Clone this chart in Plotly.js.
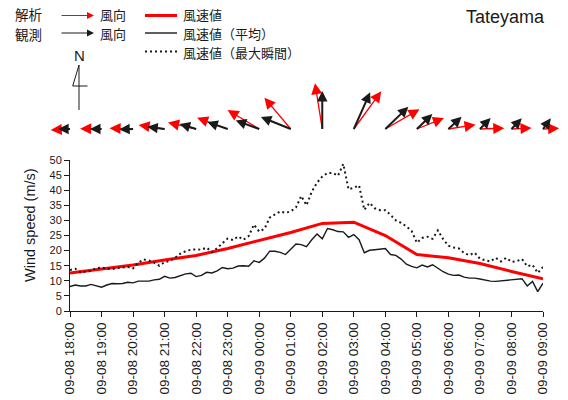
<!DOCTYPE html>
<html>
<head>
<meta charset="utf-8">
<script src="https://cdn.plot.ly/plotly-3.0.1.min.js"></script>
<style>
  html, body { margin: 0; padding: 0; background: #fff; }
  #chart { width: 568px; height: 400px; }
</style>
</head>
<body>
<div id="chart"></div>
<script>
// Hourly tick labels (month-day hour:minute), night of 8-9 September 2019
const hourLabels = [
  '09-08 18:00', '09-08 19:00', '09-08 20:00', '09-08 21:00', '09-08 22:00',
  '09-08 23:00', '09-09 00:00', '09-09 01:00', '09-09 02:00', '09-09 03:00',
  '09-09 04:00', '09-09 05:00', '09-09 06:00', '09-09 07:00', '09-09 08:00',
  '09-09 09:00'
];
const year = '2019';

// Analysis: hourly wind speed (m/s)
const anaSpeed = [12.6, 13.9, 15.2, 16.9, 18.4, 20.7, 23.4, 26.0, 29.0, 29.4, 25.0, 18.7, 17.6, 15.7, 13.1, 10.7];
// Analysis: hourly wind direction (degrees the wind blows from)
const anaDir = [87, 91, 92, 99, 103, 110, 121, 140, 171, 216, 240, 248, 261, 268, 267, 267];
// Observation: hourly wind direction (degrees the wind blows from)
const obsDir = [90, 90, 88, 97, 107, 109, 110, 112, 180, 204, 226, 226, 227, 224, 224, 216];

// Observation: 10-minute mean wind speed (m/s)
const obsMean = [
  8.1, 8.6, 8.3, 8.3, 8.8, 8.4,
  7.9, 8.6, 9.1, 9.0, 9.1, 9.5,
  9.3, 9.9, 9.8, 9.9, 10.3, 10.5,
  11.5, 10.9, 11.1, 11.8, 12.3, 12.5,
  11.4, 11.8, 12.8, 12.6, 13.3, 14.4,
  14.0, 14.2, 14.9, 15.0, 14.8, 16.6,
  16.1, 17.5, 19.8, 19.8, 19.4, 18.7,
  20.5, 22.2, 22.0, 21.3, 23.6, 25.5,
  23.9, 27.3, 26.9, 26.3, 26.2, 24.4,
  25.3, 23.6, 19.3, 20.1, 20.3, 20.5,
  20.7, 18.7, 18.4, 17.2, 15.5, 14.8,
  14.3, 15.2, 14.6, 15.3, 14.0, 13.0,
  12.2, 11.8, 11.9, 11.2, 10.9, 10.9,
  10.6, 10.2, 9.9, 9.8, 10.0, 10.2,
  10.3, 10.5, 10.7, 8.3, 9.8, 6.4,
  9.2
];
// Observation: 10-minute maximum instantaneous wind speed (m/s)
const obsGust = [
  13.6, 14.0, 12.8, 13.0, 13.3, 14.2,
  14.4, 14.0, 13.9, 14.2, 14.4, 14.6,
  14.1, 16.0, 17.1, 16.7, 16.0, 15.0,
  16.2, 16.6, 17.6, 19.0, 19.8, 20.3,
  20.4, 20.3, 21.0, 19.5, 20.8, 22.5,
  24.0, 23.5, 24.7, 23.6, 24.8, 28.6,
  26.3, 27.2, 30.9, 32.0, 33.0, 32.5,
  33.0, 34.3, 38.1, 35.0, 39.5, 42.5,
  44.5, 45.7, 45.7, 44.8, 48.7, 40.3,
  40.8, 41.6, 33.5, 35.8, 34.0, 33.4,
  33.4, 31.8, 30.0, 29.2, 28.0, 26.5,
  22.6, 24.2, 24.6, 23.9, 26.7, 23.8,
  21.6, 21.0, 20.7, 19.2, 18.5, 19.3,
  17.3, 16.8, 16.4, 17.6, 16.4, 17.6,
  16.3, 16.5, 17.2, 14.8, 15.3, 12.6,
  14.6
];

// ---- time axes ----
const hourTimes = hourLabels.map(l => year + '-' + l);
const t0 = Date.UTC(2019, 8, 8, 18, 0);
const obsTimes = obsMean.map((_, i) =>
  new Date(t0 + i * 600000).toISOString().slice(0, 16).replace('T', ' '));
const obsHourly = hourLabels.map((_, i) => obsMean[i * 6]);

// ---- page geometry ----
const W = 568, H = 400;
const M = { l: 70, r: 25, t: 0, b: 89 };
const plotW = W - M.l - M.r, plotH = H - M.t - M.b;
const px = x => (x - M.l) / plotW;           // pixel -> paper x
const py = y => (H - M.b - y) / plotH;       // pixel -> paper y
const speedTop = py(160);                    // top of the wind-speed panel
const arrowBase = py(129);                   // baseline of the direction arrows

const latin = 'Liberation Sans, Arial, sans-serif';
const jp = 'Noto Sans CJK JP, sans-serif';
const ink = '#1a1a1a';
const red = '#ff0000';

// ---- traces ----
const traces = [
  {
    x: hourTimes, y: anaSpeed, type: 'scatter', mode: 'lines',
    line: { color: red, width: 3 }, name: '風速値', showlegend: false, hoverinfo: 'skip'
  },
  {
    x: obsTimes, y: obsGust, type: 'scatter', mode: 'lines',
    line: { color: ink, width: 2, dash: '2px,3px' }, name: '風速値（最大瞬間）', showlegend: false, hoverinfo: 'skip'
  },
  {
    x: obsTimes, y: obsMean, type: 'scatter', mode: 'lines',
    line: { color: ink, width: 1.4 }, name: '風速値（平均）', showlegend: false, hoverinfo: 'skip'
  }
];

// ---- wind direction arrows (length proportional to speed) ----
const PX_PER_MS = 1.65;
function windArrow(t, dirFrom, speed, color, width, head) {
  const b = (dirFrom + 180) * Math.PI / 180;   // direction the wind blows toward
  const len = speed * PX_PER_MS;
  return {
    x: t, y: 0, xref: 'x', yref: 'y2', text: '', showarrow: true,
    axref: 'pixel', ayref: 'pixel',
    ax: len * Math.sin(b), ay: -len * Math.cos(b),
    arrowside: 'start', startarrowhead: 2, startarrowsize: head,
    arrowwidth: width, arrowcolor: color
  };
}
const annotations = [];
hourTimes.forEach((t, i) => annotations.push(windArrow(t, anaDir[i], anaSpeed[i], red, 1.3, 1.7)));
hourTimes.forEach((t, i) => annotations.push(windArrow(t, obsDir[i], obsHourly[i], ink, 2, 1.05)));

// ---- key ----
function label(text, x, y, size, anchor, family, angle) {
  return {
    text, x: px(x), y: py(y), xref: 'paper', yref: 'paper', showarrow: false,
    xanchor: anchor || 'left', yanchor: 'middle', borderpad: 0,
    textangle: angle || 0,
    font: { family: family || jp, size, color: ink }
  };
}
function keyArrow(x0, x1, y, color) {
  return {
    x: px(x1), y: py(y), xref: 'paper', yref: 'paper', text: '', showarrow: true,
    axref: 'pixel', ayref: 'pixel', ax: x0 - x1, ay: 0,
    arrowhead: 2, arrowsize: 1.4, arrowwidth: 1, arrowcolor: color
  };
}
const keyFont = 13;
annotations.push(
  label('解析', 14, 14.5, keyFont + 0.5),
  label('観測', 14, 33.5, keyFont + 0.5),
  keyArrow(60, 94, 15.5, red),
  keyArrow(60, 94, 33, ink),
  label('風向', 99, 14.5, keyFont),
  label('風向', 99, 33.5, keyFont),
  label('風速値', 182, 14.5, keyFont),
  label('風速値（平均）', 182, 33.5, keyFont),
  label('風速値（最大瞬間）', 182, 52.5, keyFont),
  label('N', 79, 55, 15, 'center', latin),
  label('Tateyama', 505, 17, 18, 'center', latin),
  // y-axis title
  label('Wind speed (m/s)', 30, 225, 14.5, 'center', latin, -90)
);

const keyLine = (y, color, width, dash) => ({
  type: 'line', xref: 'paper', yref: 'paper',
  x0: px(145), x1: px(177), y0: py(y), y1: py(y),
  line: { color, width, dash: dash || 'solid' }
});
const north = `M${px(79)},${py(110)} L${px(79)},${py(65)} L${px(72.7)},${py(86)} L${px(87.5)},${py(86)}`;
const shapes = [
  keyLine(15.5, red, 3),
  keyLine(33, ink, 1.4),
  keyLine(51.5, ink, 2, '2px,3px'),
  { type: 'path', xref: 'paper', yref: 'paper', path: north, line: { color: ink, width: 1 } }
];

const layout = {
  width: W, height: H,
  margin: M,
  paper_bgcolor: '#fff', plot_bgcolor: 'rgba(0,0,0,0)',
  showlegend: false,
  font: { family: latin, color: ink },
  xaxis: {
    type: 'date', range: [hourTimes[0], hourTimes[hourTimes.length - 1]],
    tickvals: hourTimes, ticktext: hourLabels, tickangle: -90,
    ticks: 'outside', ticklen: 5, tickcolor: ink, tickwidth: 1,
    showline: true, linecolor: ink, linewidth: 1,
    showgrid: false, zeroline: false, anchor: 'y',
    tickfont: { family: latin, size: 13.5, color: ink }
  },
  yaxis: {
    domain: [0, speedTop], range: [0, 50], dtick: 5,
    ticks: 'outside', ticklen: 5, tickcolor: ink, tickwidth: 1,
    showline: true, linecolor: ink, linewidth: 1,
    showgrid: false, zeroline: false,
    tickfont: { family: latin, size: 11, color: ink }
  },
  yaxis2: {
    domain: [arrowBase, 1], range: [0, 1], anchor: 'x',
    visible: false, fixedrange: true
  },
  annotations, shapes
};

Plotly.newPlot('chart', traces, layout, { staticPlot: true, displayModeBar: false });
</script>
</body>
</html>
